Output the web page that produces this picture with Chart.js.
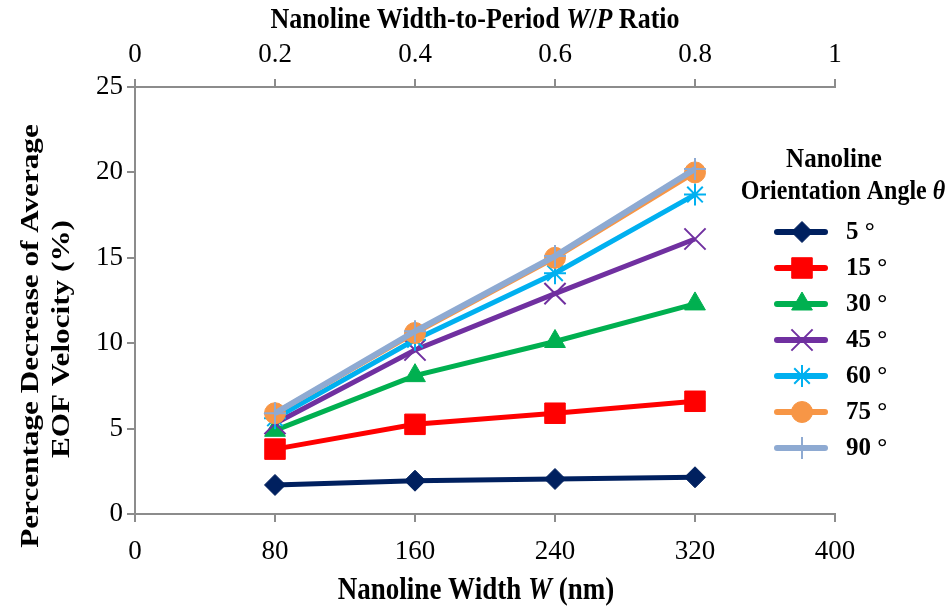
<!DOCTYPE html>
<html>
<head>
<meta charset="utf-8">
<script src="https://cdn.jsdelivr.net/npm/chart.js@4.4.1/dist/chart.umd.min.js"></script>
<style>
  html, body { margin: 0; padding: 0; background: #fff; }
  canvas { display: block; }
</style>
</head>
<body>
<canvas id="chart" width="949" height="615"></canvas>
<script>
// dados
const widths = [80, 160, 240, 320];
const angleLabels = ['5 °', '15 °', '30 °', '45 °', '60 °', '75 °', '90 °'];
const deg5 = [1.7, 1.95, 2.05, 2.15];
const deg15 = [3.8, 5.25, 5.9, 6.6];
const deg30 = [4.9, 8.1, 10.1, 12.3];
const deg45 = [5.3, 9.6, 12.9, 16.1];
const deg60 = [5.6, 10.2, 14.1, 18.7];
const deg75 = [5.9, 10.6, 15.0, 20.0];
const deg90 = [5.9, 10.7, 15.1, 20.2];
const bottomTicks = [0, 80, 160, 240, 320, 400];
const topTicks = [0, 0.2, 0.4, 0.6, 0.8, 1];
const leftTicks = [0, 5, 10, 15, 20, 25];

const series = [deg5, deg15, deg30, deg45, deg60, deg75, deg90];
const colors = ['#00205F', '#FF0000', '#00B050', '#7030A0', '#00B0F0', '#F79646', '#8EAAD2'];
const styles = ['rectRot', 'rect', 'triangle', 'crossRot', 'star', 'circle', 'cross'];
const radii = [10.5, 14.5, 12, 15, 11, 10.5, 11];

const serif = '"Liberation Serif", "Times New Roman", serif';
const axisGrey = '#8C8C8C';

const datasets = series.map(function (vals, i) {
    const isLineMarker = ['crossRot', 'star', 'cross'].indexOf(styles[i]) >= 0;
    return {
        label: angleLabels[i],
        data: vals.map(function (v, k) { return { x: widths[k], y: v }; }),
        borderColor: colors[i],
        backgroundColor: colors[i],
        borderWidth: i === 6 ? 6 : 5,
        pointStyle: styles[i],
        pointRadius: radii[i],
        pointHoverRadius: radii[i],
        pointBorderWidth: isLineMarker ? 2 : 1,
        pointBackgroundColor: colors[i],
        pointBorderColor: colors[i],
        tension: 0,
        order: series.length - i,
        xAxisID: 'x',
        yAxisID: 'y'
    };
});

// Função para escrever texto com partes em itálico (sy = esticar na vertical)
function drawMixed(ctx, parts, size, x, y, rotate, sy) {
    ctx.save();
    ctx.translate(x, y);
    ctx.scale(1, sy || 1);
    if (rotate) ctx.rotate(-Math.PI / 2);
    let total = 0;
    parts.forEach(function (p) {
        ctx.font = (p.italic ? 'italic ' : '') + 'bold ' + size + 'px ' + serif;
        p.w = ctx.measureText(p.t).width;
        total += p.w;
    });
    let cx = -total / 2;
    ctx.fillStyle = '#000';
    ctx.textBaseline = 'middle';
    ctx.textAlign = 'left';
    parts.forEach(function (p) {
        ctx.font = (p.italic ? 'italic ' : '') + 'bold ' + size + 'px ' + serif;
        ctx.fillText(p.t, cx, 0);
        cx += p.w;
    });
    ctx.restore();
}

const titlesPlugin = {
    id: 'titles',
    afterDraw: function (chart) {
        const ctx = chart.ctx;
        drawMixed(ctx, [{ t: 'Nanoline Width-to-Period ' }, { t: 'W', italic: true }, { t: '/' }, { t: 'P', italic: true }, { t: ' Ratio' }], 26, 475, 20, false, 1.15);
        drawMixed(ctx, [{ t: 'Nanoline Width ' }, { t: 'W', italic: true }, { t: ' (nm)' }], 27, 476, 591, false, 1.15);
        drawMixed(ctx, [{ t: 'Percentage Decrease of Average' }], 26, 31, 336, true, 1.2);
        drawMixed(ctx, [{ t: 'EOF Velocity (%)' }], 26, 62, 339, true, 1.2);

        // legenda
        drawMixed(ctx, [{ t: 'Nanoline' }], 25, 834, 160, false, 1.1);
        drawMixed(ctx, [{ t: 'Orientation Angle ' }, { t: 'θ', italic: true }], 24, 843, 192, false, 1.1);
        for (let i = 0; i < series.length; i++) {
            const y = 232 + i * 36;
            ctx.save();
            ctx.strokeStyle = colors[i];
            ctx.lineWidth = 6;
            ctx.lineCap = 'round';
            ctx.beginPath();
            ctx.moveTo(777, y);
            ctx.lineTo(825, y);
            ctx.stroke();
            ctx.fillStyle = colors[i];
            ctx.lineWidth = datasets[i].pointBorderWidth;
            ctx.lineCap = 'butt';
            Chart.helpers.drawPoint(ctx, { pointStyle: styles[i], radius: radii[i], borderWidth: datasets[i].pointBorderWidth, rotation: 0 }, 802, y);
            ctx.restore();
            ctx.save();
            ctx.fillStyle = '#000';
            ctx.font = 'bold 25px ' + serif;
            ctx.textBaseline = 'middle';
            ctx.textAlign = 'left';
            ctx.fillText(angleLabels[i], 846, y + 1);
            ctx.restore();
        }
    }
};

const tickFont = { family: serif, size: 27 };

new Chart(document.getElementById('chart'), {
    type: 'line',
    data: { datasets: datasets },
    options: {
        responsive: false,
        animation: false,
        layout: { padding: { left: 0, right: 114, top: 0, bottom: 0 } },
        plugins: {
            legend: { display: false },
            tooltip: { enabled: false }
        },
        scales: {
            x: {
                type: 'linear',
                position: 'bottom',
                min: bottomTicks[0],
                max: bottomTicks[bottomTicks.length - 1],
                afterBuildTicks: function (s) { s.ticks = bottomTicks.map(function (v) { return { value: v }; }); },
                ticks: { font: tickFont, color: '#000', padding: 14, maxRotation: 0 },
                grid: { drawOnChartArea: false, color: axisGrey, lineWidth: 2, tickLength: 8 },
                border: { color: axisGrey, width: 2 },
                afterFit: function (s) { s.height = 101; }
            },
            x2: {
                type: 'linear',
                position: 'top',
                min: topTicks[0],
                max: topTicks[topTicks.length - 1],
                afterBuildTicks: function (s) { s.ticks = topTicks.map(function (v) { return { value: v }; }); },
                ticks: {
                    font: tickFont, color: '#000', padding: 8, maxRotation: 0,
                    callback: function (v) { return (v === 0 || v === 1) ? String(v) : v.toFixed(1); }
                },
                grid: { drawOnChartArea: false, color: axisGrey, lineWidth: 2, tickLength: 8 },
                border: { color: axisGrey, width: 2 },
                afterFit: function (s) { s.height = 87; }
            },
            y: {
                type: 'linear',
                position: 'left',
                min: leftTicks[0],
                max: leftTicks[leftTicks.length - 1],
                afterBuildTicks: function (s) { s.ticks = leftTicks.map(function (v) { return { value: v }; }); },
                ticks: { font: tickFont, color: '#000', padding: 4 },
                grid: { drawOnChartArea: false, color: axisGrey, lineWidth: 2, tickLength: 8 },
                border: { color: axisGrey, width: 2 },
                afterFit: function (s) { s.width = 135; }
            }
        }
    },
    plugins: [titlesPlugin]
});
</script>
</body>
</html>
